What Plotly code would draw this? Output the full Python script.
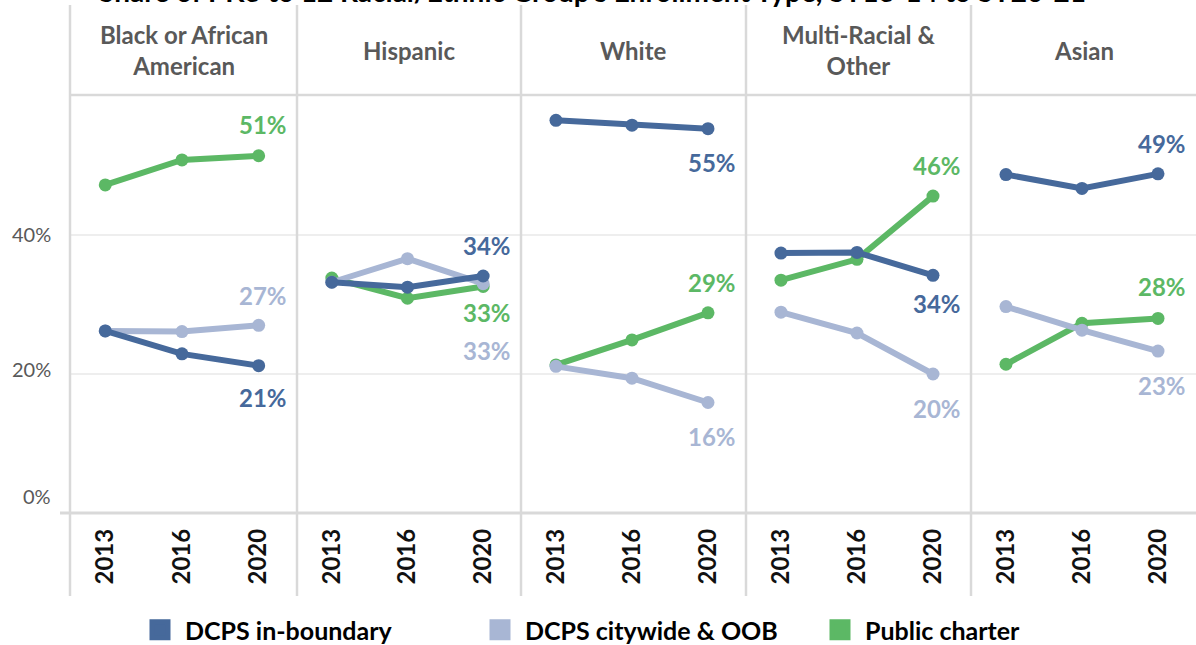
import plotly.graph_objects as go
from plotly.subplots import make_subplots

# ---------------- data ----------------
groups = ["Black or African<br>American", "Hispanic", "White", "Multi-Racial &<br>Other", "Asian"]
years = ["2013", "2016", "2020"]
series_names = ["DCPS in-boundary", "DCPS citywide & OOB", "Public charter"]

# share of each group's enrollment (%), per group: [2013, 2016, 2020]
in_boundary = [
    [26.2, 22.9, 21.2],
    [33.2, 32.5, 34.1],
    [56.5, 55.8, 55.3],
    [37.4, 37.5, 34.2],
    [48.7, 46.7, 48.8],
]
citywide_oob = [
    [26.2, 26.1, 27.0],
    [33.2, 36.6, 33.0],
    [21.1, 19.4, 15.9],
    [28.9, 25.9, 20.0],
    [29.7, 26.3, 23.3],
]
public_charter = [
    [47.2, 50.8, 51.4],
    [33.8, 30.9, 32.6],
    [21.3, 24.9, 28.8],
    [33.5, 36.5, 45.6],
    [21.4, 27.3, 28.0],
]
y_tick_vals = [0, 20, 40]
y_tick_text = ["0%", "20%", "40%"]

# ---------------- styles ----------------
colors = ["#46699B", "#A8B6D4", "#5CB865"]
label_shift = [  # vertical offset (px) of the end label per series, per group
    [-32, 31, -34, -28, 30],
    [30, -67, -34, -34, -34],
    [31, -26, 30, 31, 32],
]
W, H = 1196, 645
L, R, T, B = 70, 0, 95, 132
panel_px = [70, 297, 521, 746, 971, 1196]
plot_w = W - L - R
plot_h = H - T - B
FONT = "Lato"
GRAY = "#595959"
LINEC = "#D9D9D9"


def px_x(p):
    return (p - L) / plot_w


def px_y(p):
    return (H - B - p) / plot_h


fig = make_subplots(rows=1, cols=5, shared_yaxes=True, horizontal_spacing=0)

data_by_series = [in_boundary, citywide_oob, public_charter]
draw_order = [2, 1, 0]  # charter bottom, citywide, in-boundary on top
xpos = list(range(len(years)))

for g in range(len(groups)):
    xref = "x" if g == 0 else f"x{g+1}"
    yref = "y" if g == 0 else f"y{g+1}"
    for s in draw_order:
        vals = data_by_series[s][g]
        fig.add_trace(
            go.Scatter(
                x=xpos, y=vals, mode="lines+markers",
                line=dict(color=colors[s], width=6),
                marker=dict(color=colors[s], size=13),
                showlegend=False, hoverinfo="skip", cliponaxis=False,
            ),
            row=1, col=g + 1,
        )
        fig.add_annotation(
            x=xpos[-1], y=vals[-1], xref=xref, yref=yref,
            text=f"{round(vals[-1])}%", showarrow=False,
            xanchor="right", yanchor="middle", xshift=30, yshift=label_shift[s][g],
            font=dict(family=FONT, size=24, color=colors[s], weight="bold"),
        )
    # panel header
    fig.add_annotation(
        x=px_x((panel_px[g] + panel_px[g + 1]) / 2), y=px_y(50), xref="paper", yref="paper",
        text=groups[g], showarrow=False, xanchor="center", yanchor="middle",
        font=dict(family=FONT, size=24, color=GRAY, weight="bold"),
    )

# legend entries
for s in range(3):
    fig.add_trace(go.Scatter(
        x=[None], y=[None], mode="markers", name=series_names[s],
        marker=dict(symbol="square", size=16, color=colors[s],
                    line=dict(color=colors[s], width=5)),
    ))

# axes
for g in range(len(groups)):
    dl, dr = px_x(panel_px[g]), px_x(panel_px[g + 1])
    fig.update_xaxes(
        domain=[dl, dr], range=[-0.46, 2.5],
        tickvals=xpos, ticktext=years,
        showgrid=False, zeroline=False, showline=False,
        tickangle=-90, ticks="", ticklabelstandoff=10, automargin=False,
        tickfont=dict(family=FONT, size=24, color="#111111", weight="bold"),
        row=1, col=g + 1,
    )
fig.update_yaxes(
    range=[0, plot_h / 6.95], tickvals=y_tick_vals, showticklabels=False,
    showgrid=True, gridcolor="#EEEEEE", gridwidth=2, zeroline=False, showline=False,
    automargin=False,
)

# y tick labels
ytick_shift = [17, 5, 1]
for v, t, sh in zip(y_tick_vals, y_tick_text, ytick_shift):
    fig.add_annotation(
        x=px_x(53), y=v, xref="paper", yref="y", text=t, showarrow=False,
        xanchor="right", yanchor="middle", yshift=sh,
        font=dict(family=FONT, size=20, color=GRAY),
    )

# frame lines
shapes = []
for p in panel_px[:-1]:
    shapes.append(dict(type="line", xref="paper", yref="paper",
                       x0=px_x(p), x1=px_x(p), y0=px_y(5), y1=px_y(596),
                       line=dict(color=LINEC, width=2.5)))
shapes.append(dict(type="line", xref="paper", yref="paper",
                   x0=px_x(70), x1=1, y0=px_y(95), y1=px_y(95),
                   line=dict(color=LINEC, width=2.5)))
shapes.append(dict(type="line", xref="paper", yref="paper",
                   x0=px_x(60), x1=1, y0=px_y(513), y1=px_y(513),
                   line=dict(color=LINEC, width=3)))
fig.update_layout(shapes=shapes)

# title (cut off at the top as in reference)
fig.add_annotation(
    x=px_x(592), y=px_y(10), xref="paper", yref="paper",
    text="Share of PK3 to 12 Racial/Ethnic Group's Enrollment Type, SY13-14 to SY20-21",
    showarrow=False, xanchor="center", yanchor="bottom",
    font=dict(family=FONT, size=28, color="#000000", weight="bold"),
)

fig.update_layout(
    width=W, height=H,
    margin=dict(l=L, r=R, t=T, b=B, pad=0, autoexpand=False),
    paper_bgcolor="white", plot_bgcolor="white",
    showlegend=True,
    legend=dict(
        orientation="h", xref="container", yref="container",
        x=135 / W, y=1 - 630 / H, xanchor="left", yanchor="middle",
        entrywidth=285, entrywidthmode="pixels", itemwidth=40,
        font=dict(family=FONT, size=25, color="#000000", weight="bold"),
        bgcolor="rgba(0,0,0,0)",
    ),
)

fig.write_html("out.html", config={"displayModeBar": False},
               post_script="document.body.style.margin='0px';")
